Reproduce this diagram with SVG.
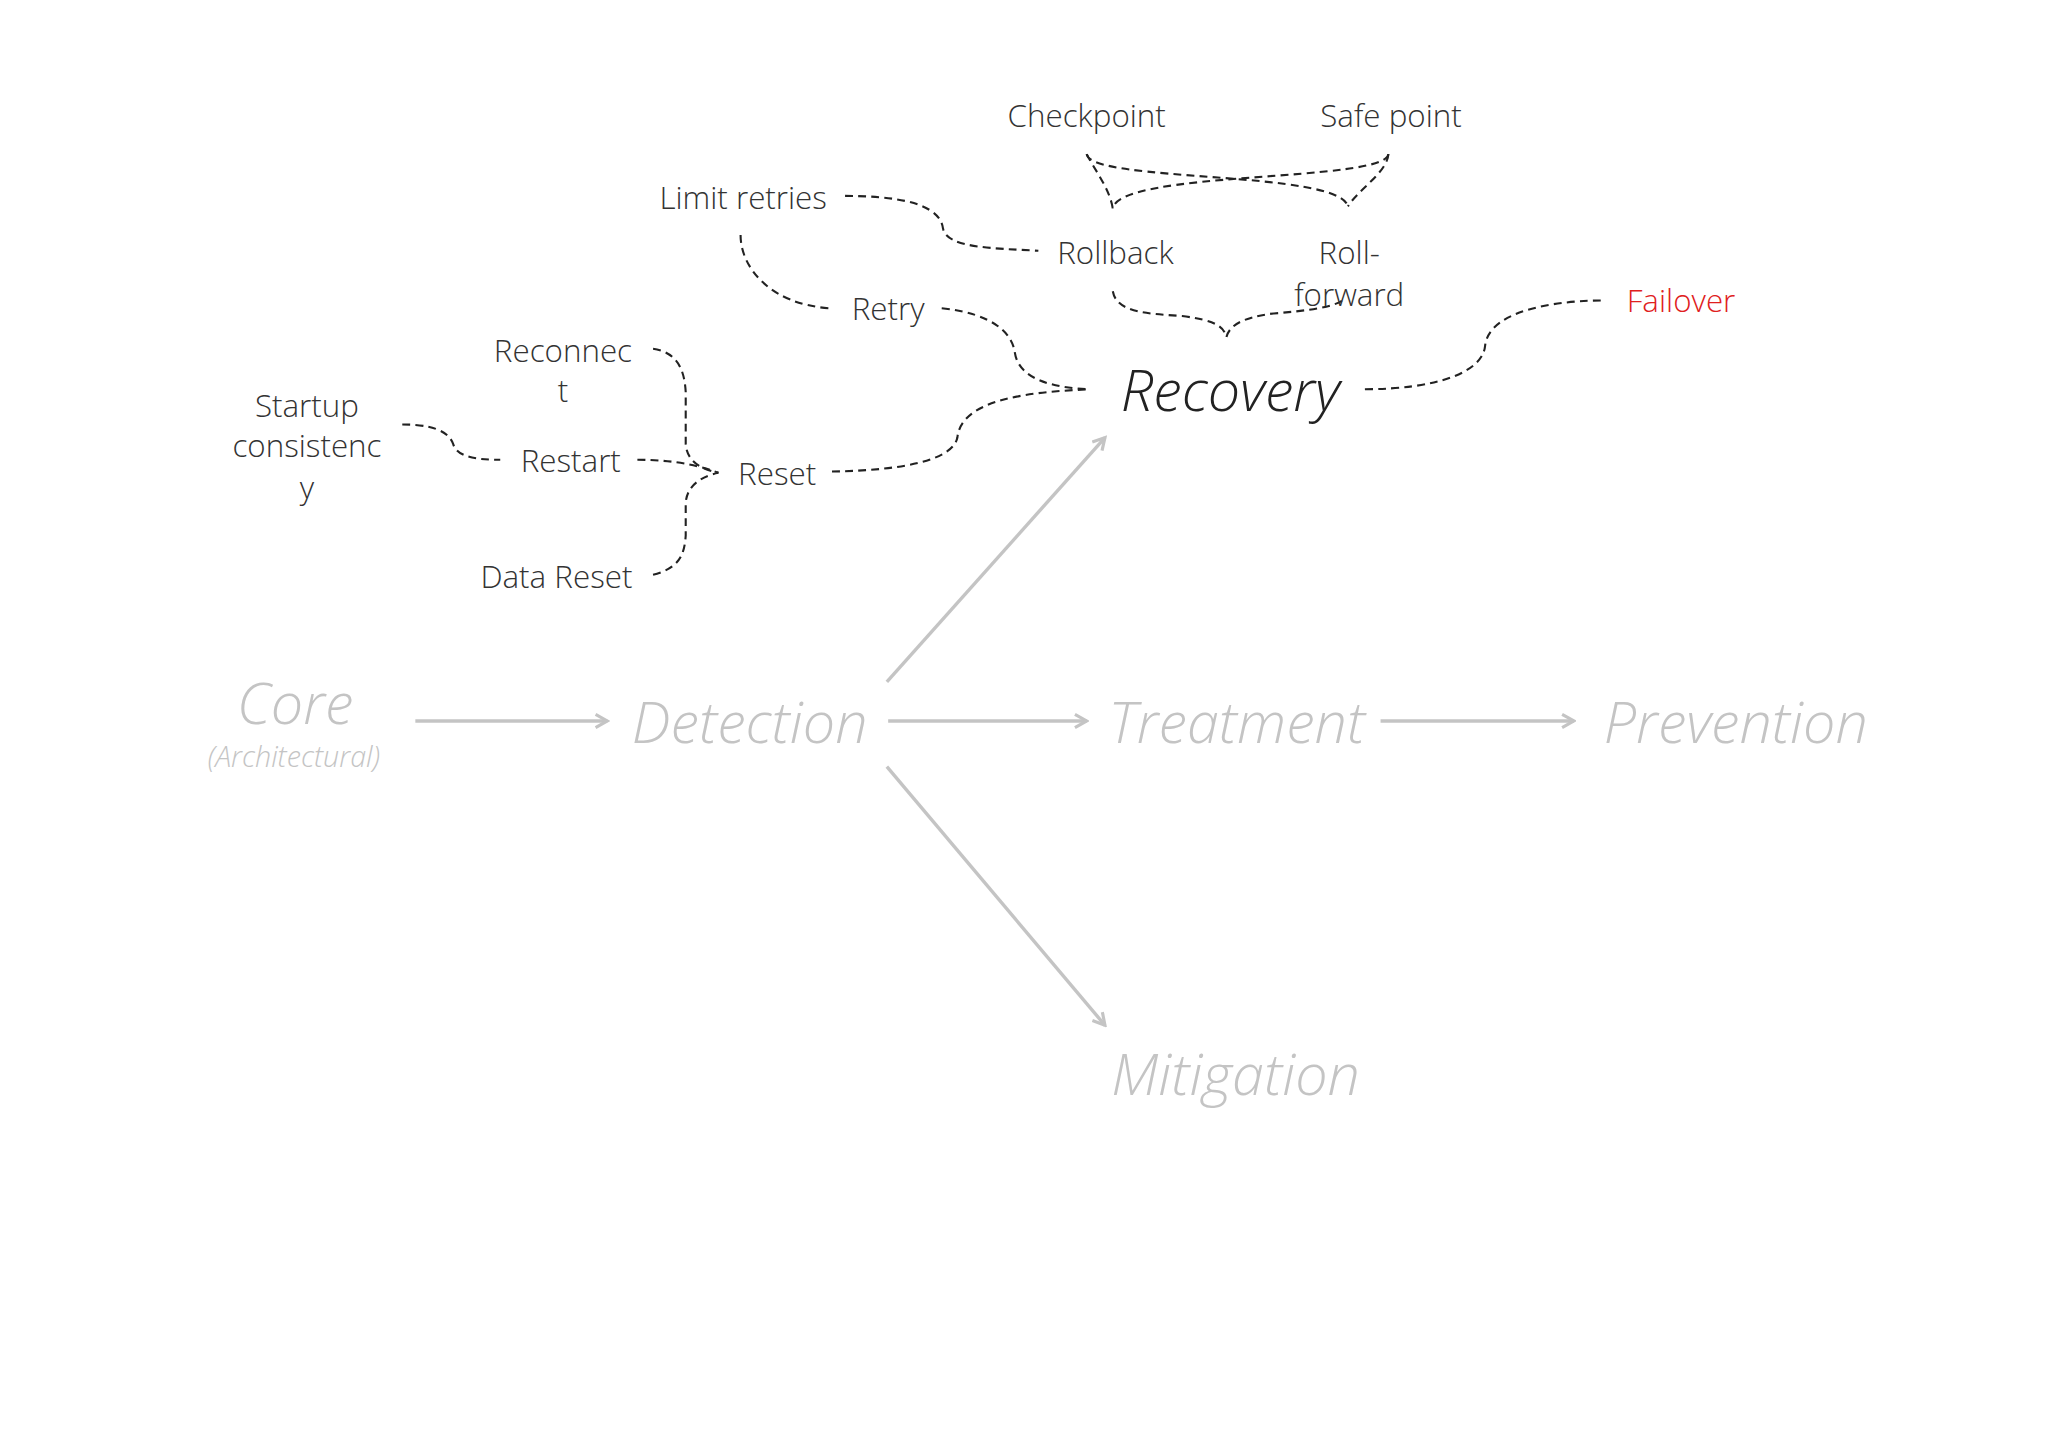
<svg xmlns="http://www.w3.org/2000/svg" width="2048" height="1449" viewBox="0 0 2048 1449">
<style>
text{font-family:"Open Sans","Liberation Sans",sans-serif;text-anchor:middle}
.s{font-size:24px;fill:#333;font-weight:300}
.big{font-size:44px;font-style:italic;font-weight:300;fill:#c4c4c4}
.d{fill:none;stroke:#222;stroke-width:1.6;stroke-dasharray:6 4}
.a{fill:none;stroke:#c4c4c4;stroke-width:2.6}
</style>
<defs><marker id="ah" markerWidth="12" markerHeight="12" refX="10" refY="6" orient="auto" markerUnits="userSpaceOnUse"><path d="M1,1 L10,6 L1,11" fill="none" stroke="#c4c4c4" stroke-width="2.4"/></marker></defs>
<rect width="2048" height="1449" fill="#fff"/>
<g transform="scale(1.30612)">
<g id="connectors">
<path class="a" d="M318,552 H465" marker-end="url(#ah)"/>
<path class="a" d="M680,552 H832" marker-end="url(#ah)"/>
<path class="a" d="M1057,552 H1205" marker-end="url(#ah)"/>
<path class="a" d="M679,522 L846,335" marker-end="url(#ah)"/>
<path class="a" d="M679,587 L846,785" marker-end="url(#ah)"/>
<path class="d" d="M647,150 C700,150 720,160 722,175 C725,190 760,190 795,192"/>
<path class="d" d="M567,180 C567,205 590,233 635,236"/>
<path class="d" d="M721,236 C760,240 775,255 777,270 C780,290 805,297 835,298"/>
<path class="d" d="M637,361 C700,360 730,350 733,335 C736,305 790,300 835,298"/>
<path class="d" d="M852,223 C855,240 880,240 905,242 C930,245 937,250 939,258 C941,250 950,243 975,240 C1000,238 1025,235 1030,228"/>
<path class="d" d="M832,118 C835,140 1025,130 1032,158"/>
<path class="d" d="M1063,118 C1060,140 855,130 852,160"/>
<path class="d" d="M832,118 C838,130 850,145 852,160"/>
<path class="d" d="M1063,118 C1062,132 1040,145 1032,158"/>
<path class="d" d="M1045,298 C1100,298 1135,285 1137,265 C1140,235 1200,230 1228,230"/>
<path class="d" d="M500,267 C520,270 524,285 525,300 L525,340 C526,355 540,360 550,362"/>
<path class="d" d="M500,440 C520,435 524,425 525,410 L525,385 C526,370 540,364 550,362"/>
<path class="d" d="M488,352 C520,352 540,358 550,362"/>
<path class="d" d="M308,325 C340,325 345,335 347,340 C350,350 365,352 383,352"/>
</g>
<g id="checkpoint"><text class="s" x="832" y="97">Checkpoint</text></g>
<g id="safepoint"><text class="s" x="1065" y="97">Safe point</text></g>
<g id="limitretries"><text class="s" x="569" y="160">Limit retries</text></g>
<g id="rollback"><text class="s" x="854" y="202">Rollback</text></g>
<g id="rollforward"><text class="s" x="1033" y="202">Roll-</text><text class="s" x="1033" y="234">forward</text></g>
<g id="retry"><text class="s" x="680" y="245">Retry</text></g>
<g id="failover"><text class="s" x="1287" y="239" style="fill:#e02020">Failover</text></g>
<g id="reconnect"><text class="s" x="431" y="277">Reconnec</text><text class="s" x="431" y="308">t</text></g>
<g id="startup"><text class="s" x="235" y="319">Startup</text><text class="s" x="235" y="350">consistenc</text><text class="s" x="235" y="382">y</text></g>
<g id="restart"><text class="s" x="437" y="361">Restart</text></g>
<g id="reset"><text class="s" x="595" y="371">Reset</text></g>
<g id="datareset"><text class="s" x="426" y="450">Data Reset</text></g>
<g id="recovery"><text class="big" x="942" y="315" style="fill:#222">Recovery</text></g>
<g id="core"><text class="big" x="226" y="554">Core</text><text x="225" y="587" style="font-size:22px;font-style:italic;font-weight:300;fill:#c4c4c4">(Architectural)</text></g>
<g id="detection"><text class="big" x="574" y="569">Detection</text></g>
<g id="treatment"><text class="big" x="947" y="569">Treatment</text></g>
<g id="prevention"><text class="big" x="1329" y="569">Prevention</text></g>
<g id="mitigation"><text class="big" x="946" y="838">Mitigation</text></g>
</g>
</svg>
